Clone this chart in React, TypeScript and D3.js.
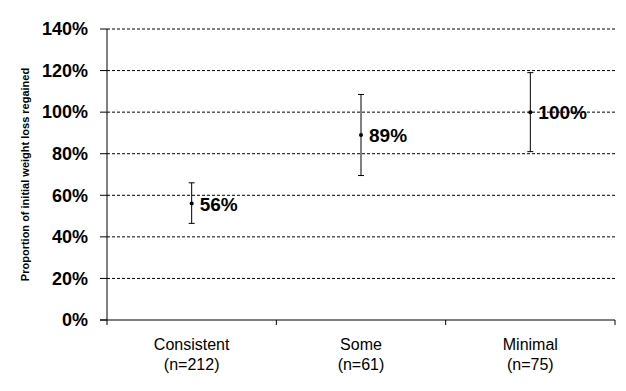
import React from 'react';
import * as d3 from 'd3';

// groups and their estimates (proportion of initial weight loss regained, %)
const categories = ['Consistent', 'Some', 'Minimal'];
const sampleSizes = ['(n=212)', '(n=61)', '(n=75)'];
const means = [56, 89, 100];
const lower = [46.5, 69.5, 81];
const upper = [66, 108.5, 119];
const yTicks = [0, 20, 40, 60, 80, 100, 120, 140];

const App = () => {
  const width = 626;
  const height = 391;
  const margin = { top: 29, right: 11, bottom: 71, left: 107 };
  const innerW = width - margin.left - margin.right;
  const innerH = height - margin.top - margin.bottom;

  const x = d3.scaleBand().domain(categories).range([0, innerW]).padding(0);
  const y = d3.scaleLinear().domain([0, 140]).range([innerH, 0]);

  const font = 'Arial, "Liberation Sans", sans-serif';

  return (
    <svg
      width={width}
      height={height}
      style={{ position: 'absolute', left: 0, top: 0, background: '#fff' }}
    >
      <g transform={`translate(${margin.left},${margin.top})`}>
        {/* gridlines + y labels */}
        {yTicks.map((t) => (
          <g key={t} transform={`translate(0,${y(t)})`}>
            {t > 0 && (
              <line
                x1={0}
                x2={innerW}
                stroke="#000"
                strokeWidth={1}
                strokeDasharray="3,2"
              />
            )}
            <line x1={-7} x2={0} stroke="#000" strokeWidth={1} />
            <text
              x={-19}
              dy="0.35em"
              textAnchor="end"
              fontFamily={font}
              fontWeight="bold"
              fontSize={18}
              fill="#000"
            >
              {t}%
            </text>
          </g>
        ))}

        {/* axes */}
        <line x1={0} x2={0} y1={0} y2={innerH} stroke="#000" strokeWidth={1} />
        <line x1={-7} x2={innerW} y1={innerH} y2={innerH} stroke="#000" strokeWidth={1.2} />
        {[0, ...categories.map((c) => (x(c) as number) + x.bandwidth())].map((px, i) => (
          <line key={i} x1={px} x2={px} y1={innerH} y2={innerH + 5} stroke="#000" />
        ))}

        {/* category labels */}
        {categories.map((c, i) => (
          <text
            key={c}
            x={(x(c) as number) + x.bandwidth() / 2}
            y={innerH + 30}
            textAnchor="middle"
            fontFamily={font}
            fontSize={16}
            fill="#000"
          >
            <tspan x={(x(c) as number) + x.bandwidth() / 2}>{c}</tspan>
            <tspan x={(x(c) as number) + x.bandwidth() / 2} dy={20}>
              {sampleSizes[i]}
            </tspan>
          </text>
        ))}

        {/* error bars and points */}
        {categories.map((c, i) => {
          const cx = (x(c) as number) + x.bandwidth() / 2;
          return (
            <g key={c}>
              <line x1={cx} x2={cx} y1={y(upper[i])} y2={y(lower[i])} stroke="#000" strokeWidth={1} />
              <line x1={cx - 3} x2={cx + 3} y1={y(upper[i])} y2={y(upper[i])} stroke="#000" />
              <line x1={cx - 3} x2={cx + 3} y1={y(lower[i])} y2={y(lower[i])} stroke="#000" />
              <circle cx={cx} cy={y(means[i])} r={2} fill="#000" />
              <text
                x={cx + 8}
                y={y(means[i])}
                dy="0.38em"
                fontFamily={font}
                fontWeight="bold"
                fontSize={19}
                fill="#000"
              >
                {means[i]}%
              </text>
            </g>
          );
        })}

        {/* y axis title */}
        <text
          transform={`translate(${-78},${innerH / 2}) rotate(-90)`}
          textAnchor="middle"
          fontFamily={font}
          fontWeight="bold"
          fontSize={11}
          fill="#000"
        >
          Proportion of initial weight loss regained
        </text>
      </g>
    </svg>
  );
};

export default App;
